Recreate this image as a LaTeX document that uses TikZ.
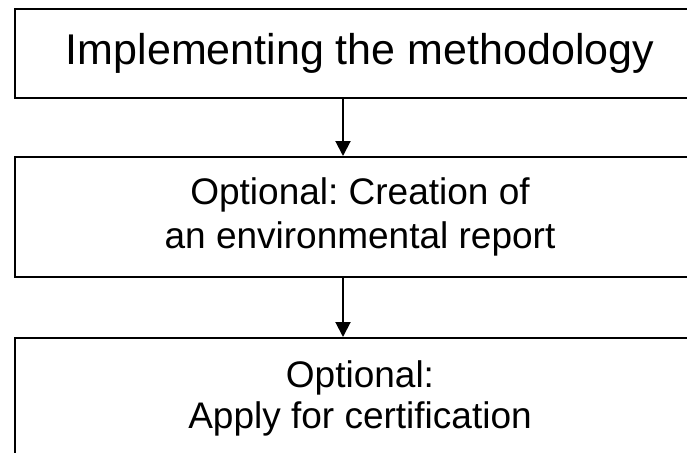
\documentclass[tikz,border=0pt]{standalone}
\usepackage{fontspec}
\setmainfont{Liberation Sans}
\usetikzlibrary{arrows.meta}
\frenchspacing
\begin{document}
\begin{tikzpicture}[x=1pt, y=-1pt, >={Triangle[width=15pt,length=15pt]},
    every node/.style={draw, line width=2pt, minimum width=690pt, align=center, inner sep=0pt}]
    \useasboundingbox (0,0) rectangle (687,452);
    % Boxes
    \node (top) at (360,53.5) [minimum height=89pt, font=\fontsize{43}{50}\selectfont] {Implementing the methodology};
    \node (report) at (360,217) [minimum height=120pt, font=\fontsize{37}{44}\selectfont] {Optional: Creation of\\an environmental report};
    \node (cert) at (360,398) [minimum height=120pt, font=\fontsize{37}{41}\selectfont] {Optional:\\Apply for certification};
    \coordinate (axis) at (343,0);

    % Arrows
    \draw[->, line width=2pt] (top.south -| axis) -- (report.north -| axis);
    \draw[->, line width=2pt] (report.south -| axis) -- (cert.north -| axis);
\end{tikzpicture}
\end{document}
